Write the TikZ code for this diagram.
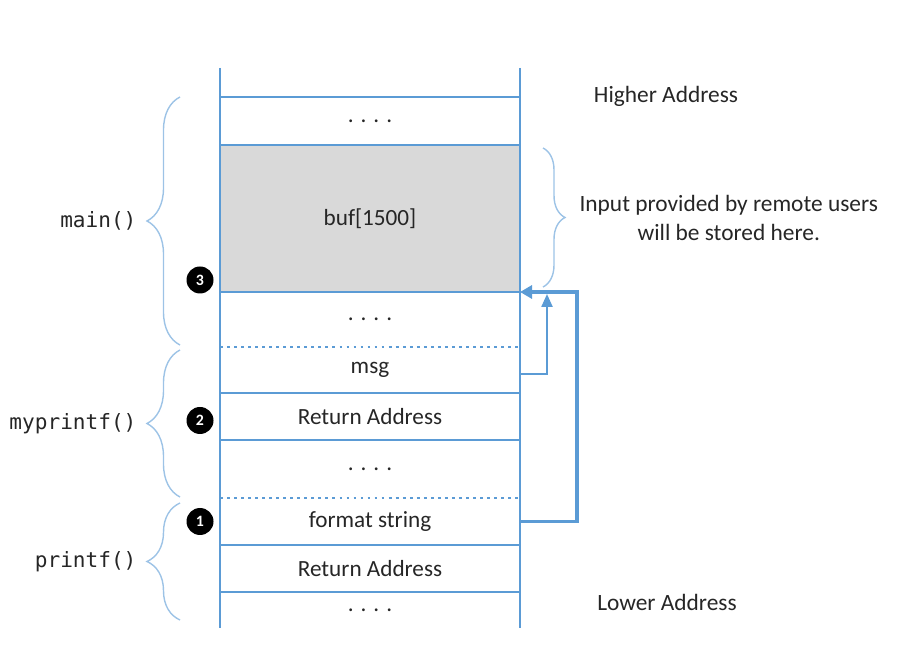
\documentclass[tikz,border=0pt]{standalone}
\usepackage{fontspec}
\setmainfont{Carlito}
\newfontfamily\codefont{DejaVu Sans Mono}
\usetikzlibrary{arrows.meta, positioning, calc, decorations.pathreplacing}
\definecolor{stackblue}{HTML}{5B9BD5}
\definecolor{bracelight}{HTML}{9DC3E6}
\definecolor{bufgray}{HTML}{D9D9D9}
\definecolor{inktext}{HTML}{262626}

\begin{document}
\begin{tikzpicture}[
        cell/.style={rectangle, minimum width=6cm, inner sep=0pt, outer sep=0pt, text=inktext, font=\fontsize{13.2}{15}\selectfont},
        wall/.style={stackblue, line width=1.2pt},
        gap/.style={stackblue, line width=1.3pt, dash pattern=on 1.6pt off 2.4pt},
        brace/.style={bracelight, line width=0.8pt, decorate, decoration={brace, amplitude=#1}},
        fname/.style={text=inktext, font=\codefont\fontsize{12}{14}\selectfont},
        note/.style={text=inktext, font=\fontsize{13.3}{16.5}\selectfont, align=center},
        badge/.style={circle, fill=black, text=white, inner sep=0pt, minimum size=0.54cm, font=\bfseries\small},
        bigarrow/.style={stackblue, line width=2pt, -{Triangle[length=0.24cm, width=0.26cm]}},
        smallarrow/.style={stackblue, line width=1.3pt, -{Triangle[length=0.26cm, width=0.22cm]}}
    ]
    
    \useasboundingbox (0,0) rectangle (18.1,-13.32);
    
    % Stack cells
    \node[cell, minimum height=0.96cm] (dotsA) at (7.4,-2.42) {. . . .};
    \node[cell, minimum height=2.94cm, fill=bufgray, below=0pt of dotsA] (buf) {buf[1500]};
    \node[cell, minimum height=1.1cm, below=0pt of buf] (dotsB) {. . . .};
    \node[cell, minimum height=0.92cm, below=0pt of dotsB] (msg) {msg};
    \node[cell, minimum height=0.94cm, below=0pt of msg] (retB) {Return Address};
    \node[cell, minimum height=1.16cm, below=0pt of retB] (dotsC) {. . . .};
    \node[cell, minimum height=0.94cm, below=0pt of dotsC] (fmt) {format string};
    \node[cell, minimum height=0.94cm, below=0pt of fmt] (retA) {Return Address};
    \node[cell, minimum height=0.72cm, below=0pt of retA] (dotsD) {. . . .};
    
    % Side walls
    \draw[wall] ($(dotsA.north west)+(0,0.58)$) -- (dotsD.south west);
    \draw[wall] ($(dotsA.north east)+(0,0.58)$) -- (dotsD.south east);
    
    % Separators
    \draw[wall] (dotsA.north west) -- (dotsA.north east);
    \draw[wall] (buf.north west) -- (buf.north east);
    \draw[wall] (buf.south west) -- (buf.south east);
    \draw[gap] (msg.north west) -- (msg.north east);
    \draw[wall] (retB.north west) -- (retB.north east);
    \draw[wall] (retB.south west) -- (retB.south east);
    \draw[gap] (fmt.north west) -- (fmt.north east);
    \draw[wall] (retA.north west) -- (retA.north east);
    \draw[wall] (retA.south west) -- (retA.south east);
    
    % --- Frames on the left ---
    \draw[brace=0.66cm] ($(dotsB.south west)+(-0.8,0.04)$) -- ($(dotsA.north west)+(-0.8,0)$)
    node[midway, anchor=east, xshift=-0.74cm, fname] (mainlbl) {main()};
    \draw[brace=0.66cm] ($(dotsC.south west)+(-0.8,0.02)$) -- ($(msg.north west)+(-0.8,-0.06)$)
    node[midway, anchor=east, xshift=-0.74cm, fname] (myplbl) {myprintf()};
    \draw[brace=0.66cm] ($(dotsD.south west)+(-0.8,0.16)$) -- ($(fmt.north west)+(-0.8,-0.1)$)
    node[midway, anchor=east, xshift=-0.74cm, fname] (plbl) {printf()};
    
    % Numbered marks
    \node[badge] (mark3) at ($(buf.south west)+(-0.4,0.24)$) {3};
    \node[badge] (mark2) at ($(retB.west)+(-0.4,-0.08)$) {2};
    \node[badge] (mark1) at ($(fmt.west)+(-0.4,0)$) {1};
    
    % --- Right side notes ---
    \node[note] (high) at (13.32,-1.92) {Higher Address};
    \node[note] (low) at (13.34,-12.04) {Lower Address};
    \draw[brace=0.44cm] ($(buf.north east)+(0.46,-0.06)$) -- ($(buf.south east)+(0.46,0.1)$)
    node[midway, anchor=west, xshift=0.6cm, note] (input) {Input provided by remote users\\will be stored here.};
    
    % Pointers into buf
    \draw[bigarrow] (fmt.east) -- ++(1.14,0) |- (buf.south east);
    \draw[smallarrow] ($(msg.east)+(0,-0.08)$) -| ($(buf.south east)+(0.54,-0.04)$);
    
\end{tikzpicture}
\end{document}
